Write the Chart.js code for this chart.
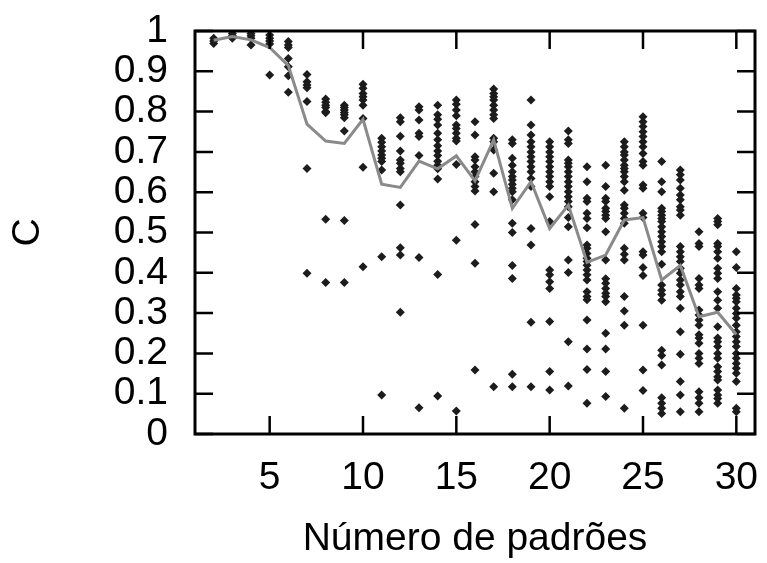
<!DOCTYPE html>
<html>
<head>
<meta charset="utf-8">
<script src="https://cdn.jsdelivr.net/npm/chart.js@4/dist/chart.umd.min.js"></script>
<style>
  html, body { margin: 0; padding: 0; background: #fff; }
  #wrap { width: 767px; height: 563px; }
</style>
</head>
<body>
<div id="wrap"><canvas id="chart"></canvas></div>
<script>
// número de padrões (eixo x)
const nPatterns = [2, 3, 4, 5, 6, 7, 8, 9, 10, 11, 12, 13, 14, 15, 16, 17, 18, 19, 20, 21, 22, 23, 24, 25, 26, 27, 28, 29, 30];

// média de C por número de padrões (linha cinza)
const meanC = [0.977, 0.986, 0.978, 0.959, 0.914, 0.769, 0.727, 0.721, 0.781, 0.62, 0.612, 0.677, 0.658, 0.69,
  0.628, 0.73, 0.56, 0.626, 0.51, 0.568, 0.426, 0.444, 0.531, 0.537, 0.382, 0.418, 0.291, 0.302, 0.247];

// valores individuais de C, uma lista por número de padrões (mesma ordem de nPatterns)
const runsC = [
  [0.982, 0.969, 0.975],
  [0.994, 0.982, 0.988],
  [0.994, 0.982, 0.965, 0.988],
  [0.99, 0.982, 0.975, 0.968, 0.891],
  [0.974, 0.965, 0.959, 0.932, 0.911, 0.889, 0.848],
  [0.892, 0.874, 0.866, 0.859, 0.825, 0.659, 0.399],
  [0.831, 0.823, 0.816, 0.81, 0.80, 0.797, 0.533, 0.376],
  [0.816, 0.81, 0.804, 0.798, 0.792, 0.785, 0.752, 0.530, 0.376],
  [0.868, 0.858, 0.845, 0.837, 0.829, 0.816, 0.783, 0.662, 0.415],
  [0.734, 0.724, 0.713, 0.702, 0.692, 0.684, 0.676, 0.655, 0.44, 0.097],
  [0.785, 0.775, 0.739, 0.702, 0.68, 0.672, 0.659, 0.651, 0.568, 0.462, 0.444, 0.302],
  [0.812, 0.804, 0.779, 0.746, 0.738, 0.691, 0.438, 0.065],
  [0.816, 0.792, 0.781, 0.767, 0.746, 0.73, 0.715, 0.702, 0.691, 0.677, 0.667, 0.658, 0.633, 0.396, 0.094],
  [0.829, 0.818, 0.804, 0.79, 0.767, 0.758, 0.746, 0.734, 0.727, 0.669, 0.481, 0.057],
  [0.775, 0.742, 0.688, 0.68, 0.663, 0.651, 0.639, 0.626, 0.614, 0.603, 0.52, 0.424, 0.159],
  [0.856, 0.845, 0.837, 0.829, 0.816, 0.804, 0.792, 0.783, 0.734, 0.725, 0.705, 0.647, 0.601, 0.117],
  [0.73, 0.721, 0.684, 0.667, 0.651, 0.639, 0.63, 0.62, 0.61, 0.601, 0.581, 0.523, 0.5, 0.418, 0.386, 0.148, 0.117],
  [0.829, 0.767, 0.742, 0.725, 0.713, 0.7, 0.688, 0.676, 0.663, 0.651, 0.634, 0.614, 0.51, 0.469, 0.277, 0.117],
  [0.725, 0.713, 0.7, 0.688, 0.676, 0.663, 0.651, 0.639, 0.626, 0.614, 0.589, 0.527, 0.407, 0.395, 0.378, 0.361, 0.279, 0.155, 0.109],
  [0.752, 0.73, 0.721, 0.68, 0.672, 0.663, 0.651, 0.639, 0.626, 0.614, 0.601, 0.589, 0.577, 0.564, 0.537, 0.514, 0.432, 0.401, 0.229, 0.119],
  [0.663, 0.626, 0.585, 0.577, 0.548, 0.535, 0.512, 0.469, 0.461, 0.448, 0.436, 0.428, 0.419, 0.407, 0.395, 0.382, 0.353, 0.341, 0.333, 0.283, 0.211, 0.16, 0.076],
  [0.667, 0.614, 0.585, 0.577, 0.56, 0.552, 0.543, 0.535, 0.502, 0.432, 0.385, 0.374, 0.361, 0.349, 0.341, 0.328, 0.25, 0.211, 0.155, 0.093],
  [0.725, 0.713, 0.7, 0.692, 0.68, 0.667, 0.659, 0.651, 0.639, 0.626, 0.605, 0.568, 0.56, 0.548, 0.535, 0.523, 0.461, 0.446, 0.432, 0.341, 0.305, 0.27, 0.064],
  [0.787, 0.775, 0.763, 0.75, 0.738, 0.725, 0.713, 0.696, 0.676, 0.667, 0.618, 0.61, 0.548, 0.537, 0.452, 0.444, 0.413, 0.393, 0.27, 0.159, 0.108],
  [0.676, 0.626, 0.601, 0.56, 0.552, 0.543, 0.535, 0.527, 0.514, 0.502, 0.49, 0.477, 0.465, 0.452, 0.421, 0.37, 0.357, 0.346, 0.332, 0.208, 0.195, 0.171, 0.09, 0.076, 0.064, 0.051],
  [0.655, 0.643, 0.63, 0.61, 0.593, 0.581, 0.564, 0.556, 0.543, 0.465, 0.452, 0.44, 0.428, 0.411, 0.399, 0.382, 0.37, 0.353, 0.341, 0.312, 0.254, 0.198, 0.13, 0.097, 0.055],
  [0.502, 0.473, 0.465, 0.386, 0.37, 0.361, 0.308, 0.295, 0.283, 0.27, 0.246, 0.238, 0.225, 0.2, 0.188, 0.175, 0.105, 0.09, 0.076, 0.055],
  [0.535, 0.527, 0.519, 0.473, 0.465, 0.452, 0.436, 0.411, 0.399, 0.386, 0.353, 0.332, 0.312, 0.266, 0.238, 0.229, 0.217, 0.2, 0.188, 0.167, 0.155, 0.142, 0.134, 0.109, 0.097, 0.088, 0.076],
  [0.452, 0.413, 0.361, 0.345, 0.337, 0.328, 0.312, 0.299, 0.287, 0.27, 0.254, 0.242, 0.229, 0.217, 0.2, 0.188, 0.175, 0.163, 0.151, 0.13, 0.064, 0.055]
];

// ticks dos eixos
const xTickValues = [5, 10, 15, 20, 25, 30];
const yTickValues = [0, 0.1, 0.2, 0.3, 0.4, 0.5, 0.6, 0.7, 0.8, 0.9, 1];

const fontFamily = "'Liberation Sans', Arial, sans-serif";
const fontSize = 39;

// pontos do scatter
const scatterPoints = [];
nPatterns.forEach((n, i) => {
  runsC[i].forEach(c => scatterPoints.push({ x: n, y: c }));
});
const meanPoints = nPatterns.map((n, i) => ({ x: n, y: meanC[i] }));

// moldura estilo gnuplot, com ticks para dentro nos quatro lados
const framePlugin = {
  id: 'frame',
  afterDraw(chart) {
    const { ctx, chartArea: a, scales } = chart;
    const tl = 18;
    ctx.save();
    ctx.strokeStyle = '#000';
    ctx.lineWidth = 2.5;
    ctx.beginPath();
    xTickValues.forEach(v => {
      const px = scales.x.getPixelForValue(v);
      ctx.moveTo(px, a.bottom); ctx.lineTo(px, a.bottom - tl);
      ctx.moveTo(px, a.top); ctx.lineTo(px, a.top + tl);
    });
    yTickValues.forEach(v => {
      const py = scales.y.getPixelForValue(v);
      ctx.moveTo(a.left, py); ctx.lineTo(a.left + tl, py);
      ctx.moveTo(a.right, py); ctx.lineTo(a.right - tl, py);
    });
    ctx.stroke();
    ctx.lineWidth = 3;
    ctx.strokeRect(a.left, a.top, a.right - a.left, a.bottom - a.top);
    ctx.restore();
  }
};

new Chart(document.getElementById('chart'), {
  type: 'scatter',
  plugins: [framePlugin],
  data: {
    datasets: [
      {
        type: 'line',
        data: meanPoints,
        borderColor: '#8a8a8a',
        borderWidth: 3,
        pointRadius: 0,
        fill: false,
        tension: 0,
        order: 0
      },
      {
        data: scatterPoints,
        pointStyle: 'rectRot',
        pointRadius: 4.5,
        pointBackgroundColor: '#1c1c1c',
        pointBorderWidth: 0,
        order: 1
      }
    ]
  },
  options: {
    responsive: true,
    maintainAspectRatio: false,
    animation: false,
    layout: { padding: { top: 31, right: 12, left: 0, bottom: 0 } },
    plugins: { legend: { display: false }, tooltip: { enabled: false } },
    scales: {
      x: {
        type: 'linear',
        min: 1,
        max: 31,
        grid: { display: false, drawTicks: false },
        border: { display: false },
        afterBuildTicks: s => { s.ticks = xTickValues.map(v => ({ value: v })); },
        afterFit: s => { s.height = 129; s.paddingLeft = 0; s.paddingRight = 0; },
        ticks: {
          autoSkip: false,
          maxRotation: 0,
          padding: 21,
          color: '#000',
          font: { family: fontFamily, size: fontSize }
        },
        title: {
          display: true,
          text: 'Número de padrões',
          color: '#000',
          padding: { top: 0, bottom: 0 },
          font: { family: fontFamily, size: fontSize }
        }
      },
      y: {
        type: 'linear',
        min: 0,
        max: 1,
        grid: { display: false, drawTicks: false },
        border: { display: false },
        afterBuildTicks: s => { s.ticks = yTickValues.map(v => ({ value: v })); },
        afterFit: s => { s.width = 195; s.paddingTop = 0; s.paddingBottom = 0; },
        ticks: {
          autoSkip: false,
          padding: 27,
          color: '#000',
          font: { family: fontFamily, size: fontSize },
          callback: v => String(Math.round(v * 10) / 10)
        },
        title: {
          display: true,
          text: 'C',
          color: '#000',
          padding: { top: 5, bottom: 0 },
          font: { family: fontFamily, size: fontSize }
        }
      }
    }
  }
});
</script>
</body>
</html>
